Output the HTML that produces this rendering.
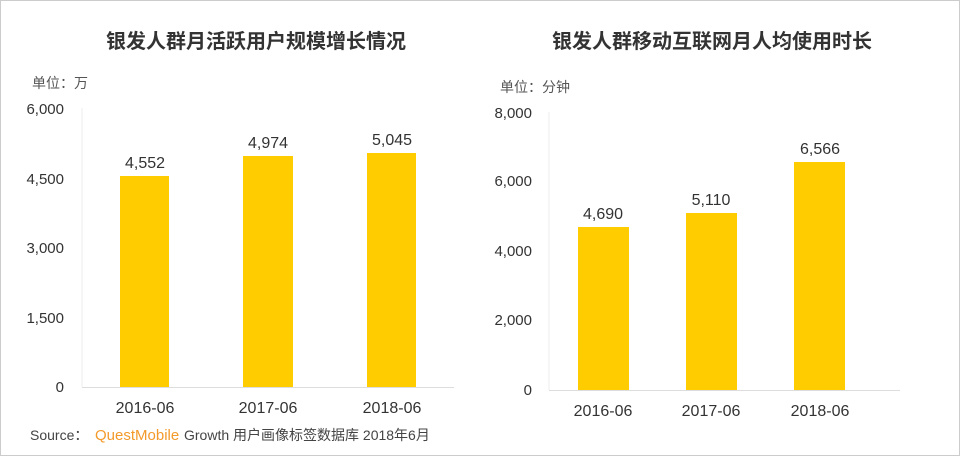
<!DOCTYPE html><html><head><meta charset="utf-8"><style>body{margin:0}svg text{font-family:"Liberation Sans","Noto Sans CJK SC",sans-serif}</style></head><body>
<svg width="960" height="456" xmlns="http://www.w3.org/2000/svg" fill="#333">
<rect x="0.5" y="0.5" width="959" height="455" fill="#fff" stroke="#ccc"/>
<text x="256" y="48" font-size="20" text-anchor="middle" font-weight="bold" style="fill:#333">银发人群月活跃用户规模增长情况</text>
<text x="712" y="48" font-size="20" text-anchor="middle" font-weight="bold" style="fill:#333">银发人群移动互联网月人均使用时长</text>
<text x="32" y="88" font-size="14" style="fill:#555">单位：万</text>
<text x="500" y="92" font-size="14" style="fill:#555">单位：分钟</text>
<g font-size="15" text-anchor="end" style="fill:#333">
<text x="64" y="114">6,000</text><text x="64" y="184">4,500</text><text x="64" y="253">3,000</text><text x="64" y="323">1,500</text><text x="64" y="392">0</text>
<text x="532" y="118">8,000</text><text x="532" y="186">6,000</text><text x="532" y="256">4,000</text><text x="532" y="325">2,000</text><text x="532" y="395">0</text>
</g>
<line x1="82" y1="108" x2="82" y2="387" stroke="#eee"/>
<line x1="82" y1="387.5" x2="454" y2="387.5" stroke="#ddd"/>
<line x1="549" y1="112" x2="549" y2="390" stroke="#eee"/>
<line x1="549" y1="390.5" x2="900" y2="390.5" stroke="#ddd"/>
<g fill="#ffcc00">
<rect x="120" y="176" width="49" height="211"/><rect x="243" y="156" width="50" height="231"/><rect x="367" y="153" width="49" height="234"/>
<rect x="578" y="227" width="51" height="163"/><rect x="686" y="213" width="51" height="177"/><rect x="794" y="162" width="51" height="228"/>
</g>
<g font-size="16" text-anchor="middle" style="fill:#333">
<text x="145" y="168">4,552</text><text x="268" y="148">4,974</text><text x="392" y="145">5,045</text>
<text x="603" y="219">4,690</text><text x="711" y="205">5,110</text><text x="820" y="154">6,566</text>
<text x="145" y="413">2016-06</text><text x="268" y="413">2017-06</text><text x="392" y="413">2018-06</text>
<text x="603" y="416">2016-06</text><text x="711" y="416">2017-06</text><text x="820" y="416">2018-06</text>
</g>
<text x="30" y="440" font-size="14" style="fill:#444">Source：</text>
<text x="95" y="440" font-size="15" style="fill:#f39a2b">QuestMobile</text>
<text x="184" y="440" font-size="14" style="fill:#444">Growth 用户画像标签数据库 2018年6月</text>
</svg></body></html>
